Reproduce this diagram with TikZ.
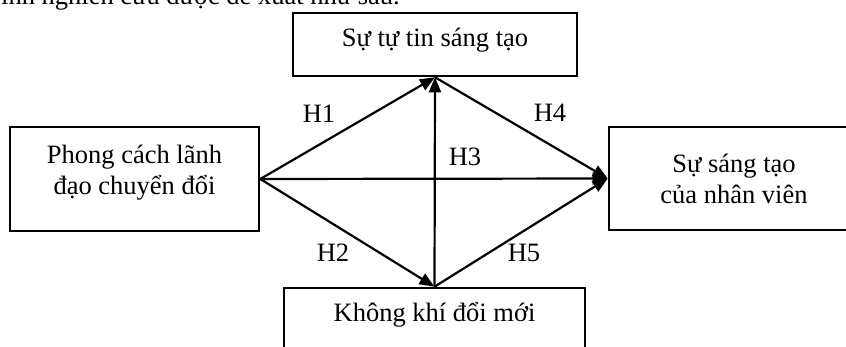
\documentclass[tikz,border=0pt]{standalone}
\usepackage{fontspec}
\setmainfont{Liberation Serif}
\usetikzlibrary{arrows.meta}
\begin{document}
\begin{tikzpicture}[x=1pt,y=-1pt,
  box/.style={draw, line width=2.6pt, rectangle, inner sep=0pt},
  txt/.style={font=\fontsize{26.5}{31}\selectfont, inner sep=0pt, align=center},
  link/.style={line width=2.2pt, -{Triangle[length=15pt,width=12pt]}}]
\useasboundingbox (0,0) rectangle (846,347);
\fill[white] (0,0) rectangle (846,347);
\clip (0,0) rectangle (846,347);
% boxes
\node[box, minimum width=284pt, minimum height=63pt] (T) at (435,44.5) {};
\node[box, minimum width=249pt, minimum height=104pt] (L) at (134.5,179) {};
\node[box, minimum width=250pt, minimum height=103pt] (R) at (734,178.5) {};
\node[box, minimum width=301pt, minimum height=63pt] (B) at (434.5,319.5) {};
% texts
\node[txt, anchor=base west] (intro) at (1,4.5) {ình nghiên cứu được đề xuất như sau.};
\node[txt, anchor=base] (tT) at (435,47) {Sự tự tin sáng tạo};
\node[txt] (tL) at (134.5,172.7) {Phong cách lãnh\\đạo chuyển đổi};
\node[txt] (tR) at (734,178.9) {Sự sáng tạo\\của nhân viên};
\node[txt, anchor=base] (tB) at (434.5,322) {Không khí đổi mới};
% connectors
\draw[link] (L.east) -- (T.south);
\draw[link] (L.east) -- (B.north);
\draw[link] (L.east) -- (R.west);
\draw[link] (B.north) -- (T.south);
\draw[link] (T.south) -- (R.west);
\draw[link] (B.north) -- (R.west);
% labels
\node[txt, anchor=base] (h1) at (319,123) {H1};
\node[txt, anchor=base] (h2) at (333,262) {H2};
\node[txt, anchor=base] (h3) at (465,166) {H3};
\node[txt, anchor=base] (h4) at (550,122) {H4};
\node[txt, anchor=base] (h5) at (524,262) {H5};
\end{tikzpicture}
\end{document}
